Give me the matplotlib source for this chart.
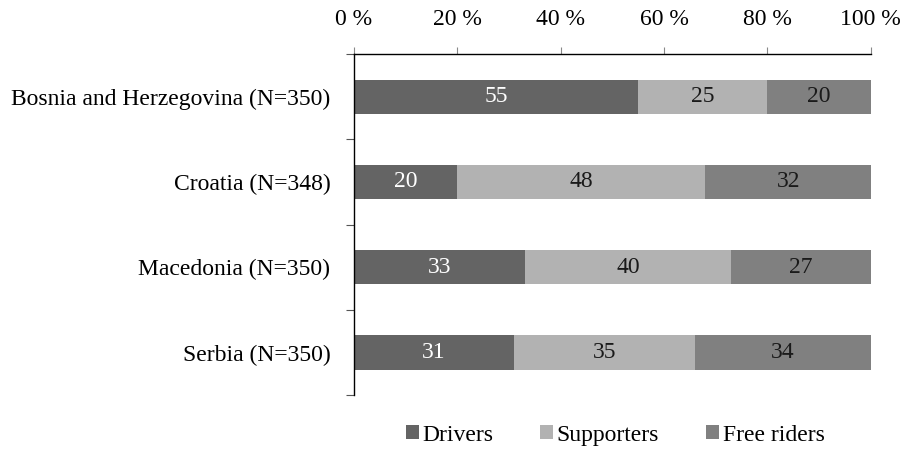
import matplotlib.pyplot as plt
from matplotlib.patches import Patch
import numpy as np

plt.rcParams['font.family'] = ['Liberation Serif', 'DejaVu Serif']

countries = ["Bosnia and Herzegovina (N=350)", "Croatia (N=348)",
             "Macedonia (N=350)", "Serbia (N=350)"]
drivers = [55, 20, 33, 31]
supporters = [25, 48, 40, 35]
free_riders = [20, 32, 27, 34]

series = [("Drivers", drivers, "#646464", "white"),
          ("Supporters", supporters, "#b2b2b2", "#1a1a1a"),
          ("Free riders", free_riders, "#808080", "#1a1a1a")]

FS = 17

fig = plt.figure(figsize=(9.1, 4.5), dpi=100)
ax = fig.add_axes([0.389, 0.122, 0.568, 0.758])

y = np.arange(len(countries))
left = np.zeros(len(countries))
handles = []
for name, vals, color, tcolor in series:
    vals = np.array(vals, dtype=float)
    bars = ax.barh(y, vals, left=left, height=0.4, color=color, edgecolor='none')
    for b, v in zip(bars, vals):
        ax.text(b.get_x() + b.get_width() / 2, b.get_y() + b.get_height() / 2,
                f"{int(v)}", ha='center', va='center', color=tcolor, fontsize=FS)
    left += vals
    handles.append(Patch(facecolor=color, edgecolor='none', label=name))

ax.set_xlim(0, 100)
ax.set_ylim(len(countries) - 0.5, -0.5)

ax.xaxis.tick_top()
ax.set_xticks(np.arange(0, 101, 20))
ax.set_xticklabels([f"{t} %" for t in range(0, 101, 20)])
ax.tick_params(axis='x', which='major', direction='out', length=5, width=0.8,
               labelsize=FS, pad=12, color='#888888')

ax.set_yticks(y)
ax.set_yticklabels(countries)
ax.set_yticks(np.arange(-0.5, len(countries), 1.0), minor=True)
ax.tick_params(axis='y', which='major', length=0, labelsize=FS, pad=17)
ax.tick_params(axis='y', which='minor', direction='out', length=6, width=0.8,
               color='#555555')

for s in ['right', 'bottom']:
    ax.spines[s].set_visible(False)
ax.spines['top'].set_linewidth(1.0)
ax.spines['left'].set_linewidth(1.0)

fig.legend(handles=handles, loc='center', bbox_to_anchor=(0.676, 0.033),
           ncol=3, frameon=False, fontsize=FS, handlelength=0.55, handleheight=0.55,
           handletextpad=0.15, columnspacing=2.0)

fig.savefig("out.png", dpi=100)
